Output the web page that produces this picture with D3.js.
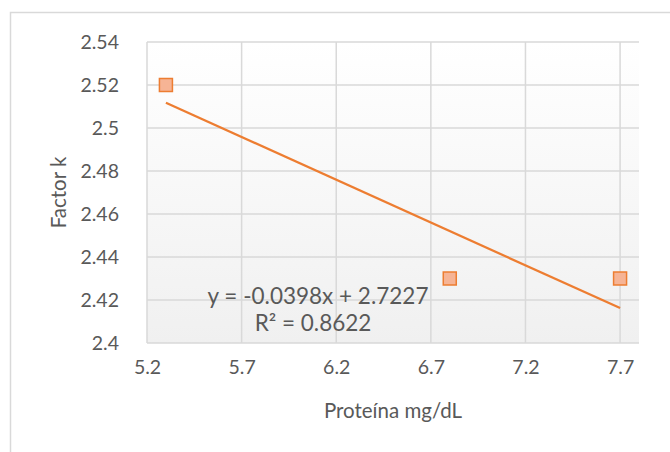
<!DOCTYPE html>
<html>
<head>
<meta charset="utf-8">
<script src="https://cdn.jsdelivr.net/npm/d3@7/dist/d3.min.js"></script>
<style>
  html, body { margin: 0; padding: 0; background: #ffffff; }
  svg { display: block; }
  text { font-family: Lato, "Noto Sans", sans-serif; fill: #595959; }
</style>
</head>
<body>
<svg id="chart" width="670" height="452"></svg>
<script>
// Protein concentration (mg/dL) against factor k
const proteina = [5.3, 6.8, 7.7];
const factorK = [2.52, 2.43, 2.43];

// Axis ticks
const xTicks = [5.2, 5.7, 6.2, 6.7, 7.2, 7.7];
const yTicks = [2.4, 2.42, 2.44, 2.46, 2.48, 2.5, 2.52, 2.54];
const xDomain = [5.2, 7.8];
const yDomain = [2.4, 2.54];

// Linear trendline coefficients and fit quality
const slope = -0.0398;
const intercept = 2.7227;
const rSquared = 0.8622;

const svg = d3.select("#chart");
const W = 670, H = 452;
const plot = { left: 147, right: 639, top: 42, bottom: 343 };

const x = d3.scaleLinear().domain(xDomain).range([plot.left, plot.right]);
const y = d3.scaleLinear().domain(yDomain).range([plot.bottom, plot.top]);

// Chart frame
svg.append("path")
  .attr("d", `M10.5,${H + 5} V12.5 H${W + 5}`)
  .attr("fill", "none")
  .attr("stroke", "#d9d9d9")
  .attr("stroke-width", 1.5);

// Plot area with a soft vertical gradient
const defs = svg.append("defs");
const grad = defs.append("linearGradient")
  .attr("id", "plotBg").attr("x1", 0).attr("y1", 0).attr("x2", 0).attr("y2", 1);
grad.append("stop").attr("offset", "0%").attr("stop-color", "#ffffff");
grad.append("stop").attr("offset", "100%").attr("stop-color", "#f0f0f0");

svg.append("rect")
  .attr("x", plot.left).attr("y", plot.top)
  .attr("width", plot.right - plot.left).attr("height", plot.bottom - plot.top)
  .attr("fill", "url(#plotBg)");

// Gridlines
const grid = svg.append("g").attr("stroke", "#d9d9d9").attr("stroke-width", 1.5);
grid.selectAll(".gy").data(yTicks).join("line")
  .attr("x1", plot.left).attr("x2", plot.right)
  .attr("y1", d => y(d)).attr("y2", d => y(d));
grid.selectAll(".gx").data(xTicks).join("line")
  .attr("y1", plot.top).attr("y2", plot.bottom)
  .attr("x1", d => x(d)).attr("x2", d => x(d));

// Axes (labels only; lines come from the grid)
const yAxis = svg.append("g")
  .attr("transform", `translate(${plot.left},0)`)
  .call(d3.axisLeft(y).tickValues(yTicks).tickSize(0).tickPadding(28)
    .tickFormat(d => d3.format("")(+d.toFixed(2))));
const xAxis = svg.append("g")
  .attr("transform", `translate(0,${plot.bottom})`)
  .call(d3.axisBottom(x).tickValues(xTicks).tickSize(0).tickPadding(17)
    .tickFormat(d => d.toFixed(1)));
[yAxis, xAxis].forEach(a => {
  a.select(".domain").remove();
  a.selectAll("text").attr("font-size", 19.5).attr("fill", "#595959")
    .attr("font-family", "Lato, 'Noto Sans', sans-serif");
});

// Axis titles
svg.append("text")
  .attr("x", (plot.left + plot.right) / 2).attr("y", 418)
  .attr("text-anchor", "middle").attr("font-size", 20.5)
  .text("Proteína mg/dL");
svg.append("text")
  .attr("transform", `translate(66,${(plot.top + plot.bottom) / 2}) rotate(-90)`)
  .attr("text-anchor", "middle").attr("font-size", 20.5)
  .text("Factor k");

// Trendline across the data range
const xExt = d3.extent(proteina);
svg.append("line")
  .attr("x1", x(xExt[0])).attr("y1", y(slope * xExt[0] + intercept))
  .attr("x2", x(xExt[1])).attr("y2", y(slope * xExt[1] + intercept))
  .attr("stroke", "#ed7d31").attr("stroke-width", 2.25);

// Data markers
svg.append("g").selectAll("rect").data(proteina.map((p, i) => [p, factorK[i]])).join("rect")
  .attr("x", d => x(d[0]) - 6.5).attr("y", d => y(d[1]) - 6.5)
  .attr("width", 13).attr("height", 13)
  .attr("fill", "#f6b495").attr("stroke", "#ed7d31").attr("stroke-width", 1.5);

// Trendline equation and R²
const eq = svg.append("text").attr("text-anchor", "middle").attr("font-size", 22.5);
eq.append("tspan").attr("x", 318).attr("y", 304)
  .text(`y = ${slope}x + ${intercept}`);
eq.append("tspan").attr("x", 313).attr("y", 331)
  .text(`R² = ${rSquared}`);
</script>
</body>
</html>
